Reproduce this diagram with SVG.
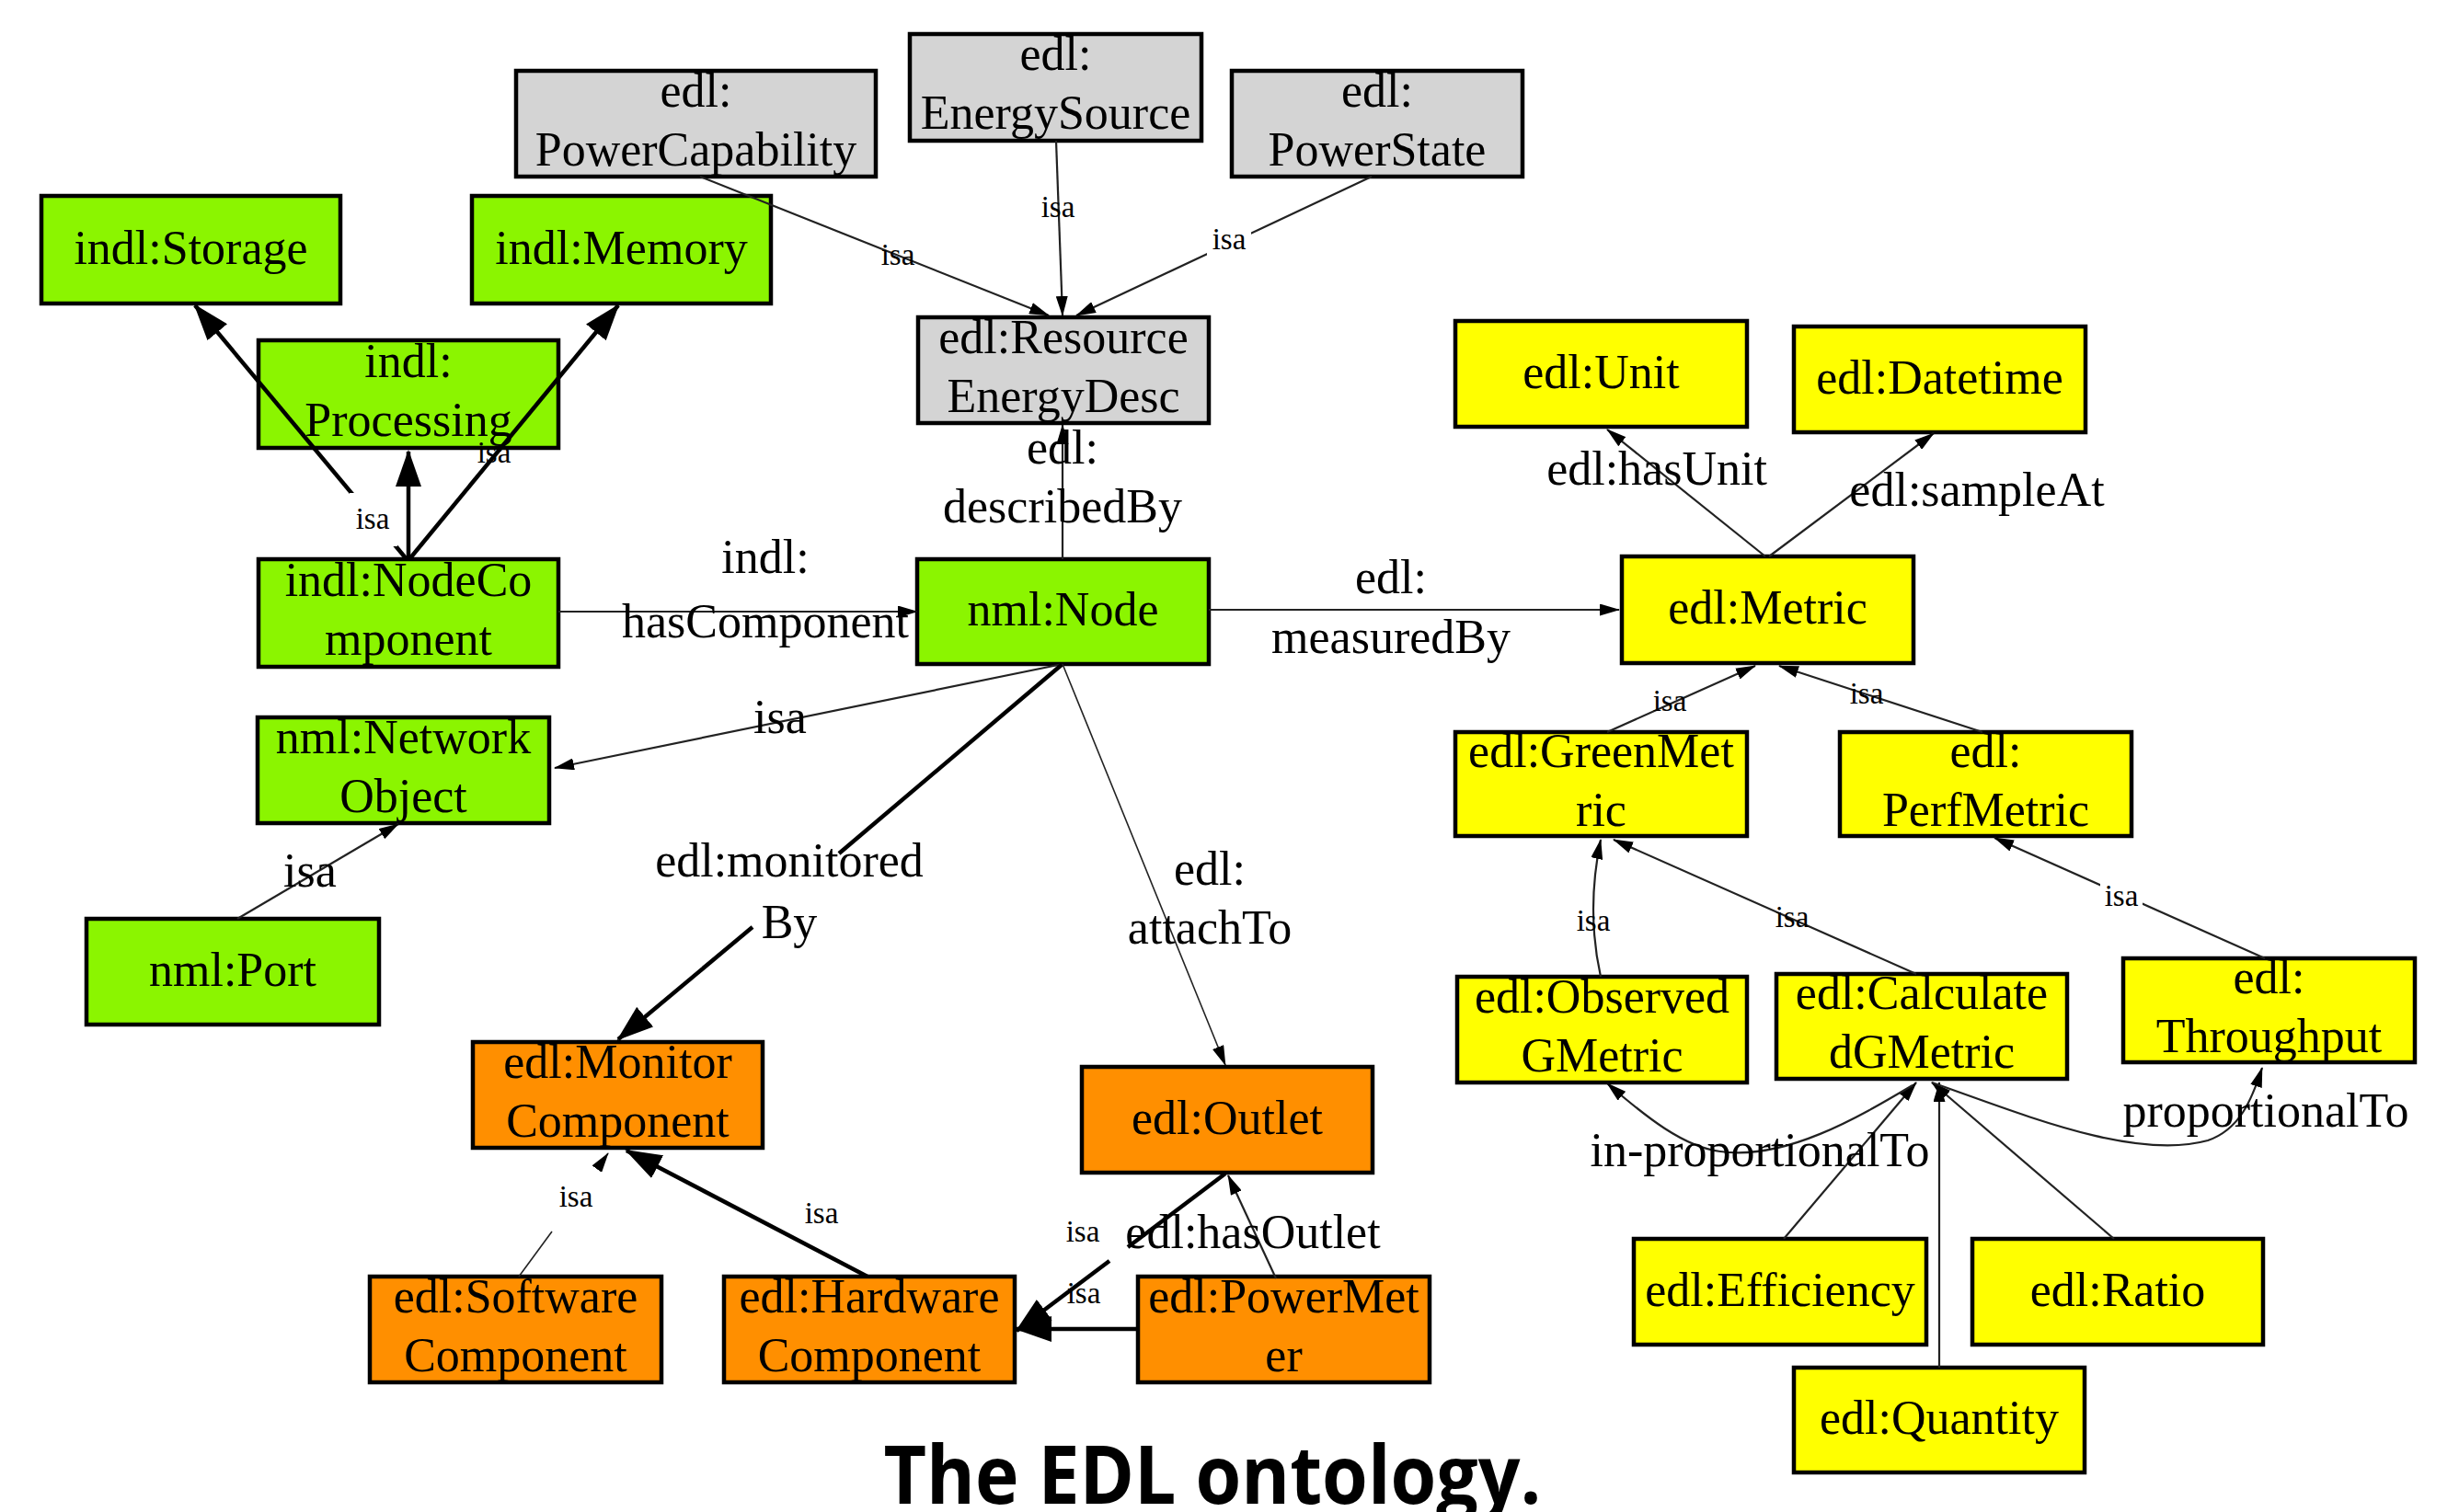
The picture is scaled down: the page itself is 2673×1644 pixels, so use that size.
<svg xmlns="http://www.w3.org/2000/svg" width="2673" height="1644" viewBox="0 0 2673 1644">
<style>
.box{stroke:#000;stroke-width:4.5}
.gr{fill:#d4d4d4}.gn{fill:#8bf500}.ye{fill:#ffff00}.or{fill:#ff8f00}
.t{font-family:"Liberation Serif","Times New Roman",serif;font-size:52px;fill:#000;text-anchor:middle}
.s{font-family:"Liberation Serif","Times New Roman",serif;font-size:33px;fill:#000;text-anchor:middle}
.thin{stroke:#222;stroke-width:2.2;fill:none}
.hair{stroke:#222;stroke-width:1.6;fill:none}
.thick{stroke:#000;stroke-width:4.5;fill:none}
.title{font-family:"Open Sans","Noto Sans",sans-serif;font-weight:700;font-size:88px;fill:#000;text-anchor:middle}
</style>
<defs>
<marker id="big" markerUnits="userSpaceOnUse" markerWidth="40" markerHeight="28" viewBox="0 0 40 28" refX="38" refY="14" orient="auto"><path d="M0,0 L40,14 L0,28 z" fill="#000"/></marker>
<marker id="sm" markerUnits="userSpaceOnUse" markerWidth="22" markerHeight="13" viewBox="0 0 22 13" refX="21" refY="6.5" orient="auto"><path d="M0,0 L22,6.5 L0,13 z" fill="#000"/></marker>
</defs>
<rect width="2673" height="1644" fill="#fff"/>

<g id="PowerCapability"><rect class="box gr" x="561" y="77" width="391" height="115"/><text class="t" x="756.5" y="115.5">edl:</text><text class="t" x="756.5" y="179.5">PowerCapability</text></g>
<g id="EnergySource"><rect class="box gr" x="989" y="37" width="317" height="116"/><text class="t" x="1147.5" y="76">edl:</text><text class="t" x="1147.5" y="140">EnergySource</text></g>
<g id="PowerState"><rect class="box gr" x="1339" y="77" width="316" height="115"/><text class="t" x="1497" y="115.5">edl:</text><text class="t" x="1497" y="179.5">PowerState</text></g>
<g id="ResourceEnergyDesc"><rect class="box gr" x="998" y="345" width="316" height="115"/><text class="t" x="1156" y="383.5">edl:Resource</text><text class="t" x="1156" y="447.5">EnergyDesc</text></g>

<g id="Storage"><rect class="box gn" x="45" y="213" width="325" height="117"/><text class="t" x="207.5" y="286.5">indl:Storage</text></g>
<g id="Memory"><rect class="box gn" x="513" y="213" width="325" height="117"/><text class="t" x="675.5" y="286.5">indl:Memory</text></g>
<g id="Processing"><rect class="box gn" x="281" y="370" width="326" height="117"/><text class="t" x="444" y="409.5">indl:</text><text class="t" x="444" y="473.5">Processing</text></g>
<g id="NodeComponent"><rect class="box gn" x="281" y="608" width="326" height="117"/><text class="t" x="444" y="647.5">indl:NodeCo</text><text class="t" x="444" y="711.5">mponent</text></g>
<g id="NetworkObject"><rect class="box gn" x="280" y="780" width="317" height="115"/><text class="t" x="438.5" y="818.5">nml:Network</text><text class="t" x="438.5" y="882.5">Object</text></g>
<g id="Port"><rect class="box gn" x="94" y="999" width="318" height="115"/><text class="t" x="253" y="1071.5">nml:Port</text></g>
<g id="Node"><rect class="box gn" x="997" y="608" width="317" height="114"/><text class="t" x="1155.5" y="680">nml:Node</text></g>

<g id="Unit"><rect class="box ye" x="1582" y="349" width="317" height="115"/><text class="t" x="1740.5" y="421.5">edl:Unit</text></g>
<g id="Datetime"><rect class="box ye" x="1950" y="355" width="317" height="115"/><text class="t" x="2108.5" y="427.5">edl:Datetime</text></g>
<g id="Metric"><rect class="box ye" x="1763" y="605" width="317" height="116"/><text class="t" x="1921.5" y="678">edl:Metric</text></g>
<g id="GreenMetric"><rect class="box ye" x="1582" y="796" width="317" height="113"/><text class="t" x="1740.5" y="833.5">edl:GreenMet</text><text class="t" x="1740.5" y="897.5">ric</text></g>
<g id="PerfMetric"><rect class="box ye" x="2000" y="796" width="317" height="113"/><text class="t" x="2158.5" y="833.5">edl:</text><text class="t" x="2158.5" y="897.5">PerfMetric</text></g>
<g id="ObservedGMetric"><rect class="box ye" x="1584" y="1062" width="315" height="115"/><text class="t" x="1741.5" y="1100.5">edl:Observed</text><text class="t" x="1741.5" y="1164.5">GMetric</text></g>
<g id="CalculatedGMetric"><rect class="box ye" x="1931" y="1059" width="316" height="114"/><text class="t" x="2089" y="1097">edl:Calculate</text><text class="t" x="2089" y="1161">dGMetric</text></g>
<g id="Throughput"><rect class="box ye" x="2308" y="1042" width="317" height="113"/><text class="t" x="2466.5" y="1079.5">edl:</text><text class="t" x="2466.5" y="1143.5">Throughput</text></g>
<g id="Efficiency"><rect class="box ye" x="1776" y="1347" width="318" height="115"/><text class="t" x="1935" y="1419.5">edl:Efficiency</text></g>
<g id="Ratio"><rect class="box ye" x="2144" y="1347" width="316" height="115"/><text class="t" x="2302" y="1419.5">edl:Ratio</text></g>
<g id="Quantity"><rect class="box ye" x="1950" y="1487" width="316" height="114"/><text class="t" x="2108" y="1559">edl:Quantity</text></g>

<g id="MonitorComponent"><rect class="box or" x="514" y="1133" width="315" height="115"/><text class="t" x="671.5" y="1171.5">edl:Monitor</text><text class="t" x="671.5" y="1235.5">Component</text></g>
<g id="Outlet"><rect class="box or" x="1176" y="1160" width="316" height="115"/><text class="t" x="1334" y="1232.5">edl:Outlet</text></g>
<g id="SoftwareComponent"><rect class="box or" x="402" y="1388" width="317" height="115"/><text class="t" x="560.5" y="1426.5">edl:Software</text><text class="t" x="560.5" y="1490.5">Component</text></g>
<g id="HardwareComponent"><rect class="box or" x="787" y="1388" width="316" height="115"/><text class="t" x="945" y="1426.5">edl:Hardware</text><text class="t" x="945" y="1490.5">Component</text></g>
<g id="PowerMeter"><rect class="box or" x="1237" y="1388" width="317" height="115"/><text class="t" x="1395.5" y="1426.5">edl:PowerMet</text><text class="t" x="1395.5" y="1490.5">er</text></g>

<g id="connectors">
<line class="thin" x1="761" y1="192" x2="1140" y2="343" marker-end="url(#sm)"/>
<line class="thin" x1="1148" y1="153" x2="1155" y2="343" marker-end="url(#sm)"/>
<line class="thin" x1="1491" y1="192" x2="1170" y2="343" marker-end="url(#sm)"/>
<line class="thin" x1="1155" y1="608" x2="1155" y2="462" marker-end="url(#sm)"/>
<line class="thick" x1="442" y1="608" x2="212" y2="332" marker-end="url(#big)"/>
<line class="thick" x1="444" y1="608" x2="444" y2="491" marker-end="url(#big)"/>
<line class="thick" x1="445" y1="608" x2="672" y2="332" marker-end="url(#big)"/>
<line class="thin" x1="607" y1="665" x2="997" y2="665" marker-end="url(#sm)"/>
<line class="thin" x1="1155" y1="722" x2="603" y2="835" marker-end="url(#sm)"/>
<line class="thin" x1="258" y1="999" x2="433" y2="896" marker-end="url(#sm)"/>
<line class="thick" x1="1155" y1="722" x2="912" y2="928"/>
<line class="thick" x1="818" y1="1008" x2="672" y2="1130" marker-end="url(#big)"/>
<line class="hair" x1="1155" y1="722" x2="1332" y2="1158" marker-end="url(#sm)"/>
<line class="thin" x1="1314" y1="663" x2="1760" y2="663" marker-end="url(#sm)"/>
<line class="thin" x1="1919" y1="605" x2="1747" y2="467" marker-end="url(#sm)"/>
<line class="thin" x1="1923" y1="605" x2="2102" y2="471" marker-end="url(#sm)"/>
<line class="thin" x1="1747" y1="796" x2="1908" y2="724" marker-end="url(#sm)"/>
<line class="thin" x1="2155" y1="796" x2="1934" y2="724" marker-end="url(#sm)"/>
<path class="thin" d="M1740,1062 Q1724,990 1740,913" marker-end="url(#sm)"/>
<line class="thin" x1="2083" y1="1059" x2="1754" y2="913" marker-end="url(#sm)"/>
<line class="thin" x1="2462" y1="1042" x2="2168" y2="911" marker-end="url(#sm)"/>
<line class="thin" x1="1939" y1="1347" x2="2083" y2="1177" marker-end="url(#sm)"/>
<line class="thin" x1="2108" y1="1487" x2="2108" y2="1177" marker-end="url(#sm)"/>
<line class="thin" x1="2298" y1="1347" x2="2100" y2="1177" marker-end="url(#sm)"/>
<path class="thin" d="M2079,1180 C2020,1215 1940,1262 1870,1252 C1830,1247 1790,1215 1747,1178" marker-end="url(#sm)"/>
<path class="thin" d="M2100,1177 C2200,1212 2320,1262 2400,1240 C2435,1228 2448,1195 2459,1161" marker-end="url(#sm)"/>
<line class="hair" x1="564" y1="1388" x2="600" y2="1339"/>
<line class="hair" x1="651" y1="1268" x2="661" y2="1254" marker-end="url(#sm)"/>
<line class="thick" x1="943" y1="1388" x2="681" y2="1251" marker-end="url(#big)"/>
<line class="thick" x1="1332" y1="1276" x2="1226" y2="1356"/>
<line class="thick" x1="1206" y1="1371" x2="1105" y2="1447" marker-end="url(#big)"/>
<line class="thick" x1="1238" y1="1445" x2="1105" y2="1445" marker-end="url(#big)"/>
<line class="thin" x1="1387" y1="1390" x2="1335" y2="1278" marker-end="url(#sm)"/>
</g>

<g id="edge-labels">
<text class="s" x="976" y="288">isa</text>
<text class="s" x="1150" y="236">isa</text>
<rect x="1312" y="242" width="48" height="36" fill="#fff"/>
<text class="s" x="1336" y="271">isa</text>
<text class="t" x="1155" y="504">edl:</text>
<text class="t" x="1155" y="568">describedBy</text>
<rect x="380" y="536" width="52" height="58" fill="#fff"/>
<text class="s" x="405" y="575">isa</text>
<text class="s" x="537" y="503">isa</text>
<text class="t" x="832" y="623">indl:</text>
<text class="t" x="832" y="693">hasComponent</text>
<text class="t" x="848" y="797">isa</text>
<text class="t" x="337" y="964">isa</text>
<text class="t" x="858" y="953">edl:monitored</text>
<text class="t" x="858" y="1020">By</text>
<text class="t" x="1315" y="962">edl:</text>
<text class="t" x="1315" y="1026">attachTo</text>
<text class="t" x="1512" y="645">edl:</text>
<text class="t" x="1512" y="710">measuredBy</text>
<text class="t" x="1801" y="527">edl:hasUnit</text>
<text class="t" x="2149" y="550">edl:sampleAt</text>
<text class="s" x="1815" y="773">isa</text>
<text class="s" x="2029" y="765">isa</text>
<text class="s" x="1732" y="1012">isa</text>
<text class="s" x="1948" y="1008">isa</text>
<rect x="2283" y="955" width="46" height="38" fill="#fff"/>
<text class="s" x="2306" y="985">isa</text>
<text class="t" x="1913" y="1268">in-proportionalTo</text>
<text class="t" x="2463" y="1225">proportionalTo</text>
<text class="s" x="626" y="1312">isa</text>
<text class="s" x="893" y="1330">isa</text>
<text class="s" x="1177" y="1350">isa</text>
<text class="s" x="1178" y="1417">isa</text>
<text class="t" x="1362" y="1357">edl:hasOutlet</text>
</g>

<text class="title" x="1318" y="1635" textLength="715" lengthAdjust="spacingAndGlyphs">The EDL ontology.</text>
</svg>
